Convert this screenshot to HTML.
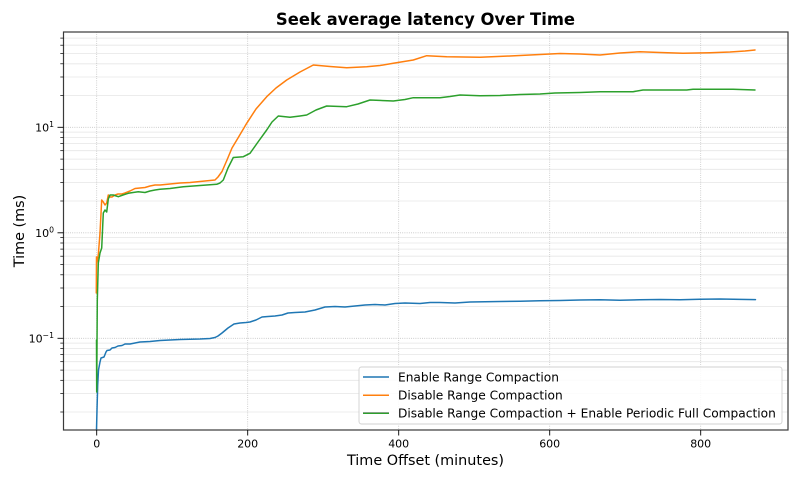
<!DOCTYPE html>
<html>
<head>
<meta charset="utf-8">
<style>
  html,body{margin:0;padding:0;background:#fff;}
  svg{display:block;}
  text{font-family:"DejaVu Sans","Liberation Sans",sans-serif;fill:#000;}
</style>
</head>
<body>
<svg width="800" height="480" viewBox="0 0 800 480" xmlns="http://www.w3.org/2000/svg">
  <rect x="0" y="0" width="800" height="480" fill="#fff"/>

  <!-- minor y grid -->
  <g stroke="#e6e6e6" stroke-width="0.8" fill="none">
    <line x1="63.5" x2="788" y1="412.0" y2="412.0"/>
    <line x1="63.5" x2="788" y1="393.5" y2="393.5"/>
    <line x1="63.5" x2="788" y1="380.3" y2="380.3"/>
    <line x1="63.5" x2="788" y1="370.1" y2="370.1"/>
    <line x1="63.5" x2="788" y1="361.7" y2="361.7"/>
    <line x1="63.5" x2="788" y1="354.6" y2="354.6"/>
    <line x1="63.5" x2="788" y1="348.5" y2="348.5"/>
    <line x1="63.5" x2="788" y1="343.1" y2="343.1"/>
    <line x1="63.5" x2="788" y1="306.5" y2="306.5"/>
    <line x1="63.5" x2="788" y1="288.0" y2="288.0"/>
    <line x1="63.5" x2="788" y1="274.8" y2="274.8"/>
    <line x1="63.5" x2="788" y1="264.6" y2="264.6"/>
    <line x1="63.5" x2="788" y1="256.2" y2="256.2"/>
    <line x1="63.5" x2="788" y1="249.1" y2="249.1"/>
    <line x1="63.5" x2="788" y1="243.0" y2="243.0"/>
    <line x1="63.5" x2="788" y1="237.6" y2="237.6"/>
    <line x1="63.5" x2="788" y1="201.0" y2="201.0"/>
    <line x1="63.5" x2="788" y1="182.5" y2="182.5"/>
    <line x1="63.5" x2="788" y1="169.3" y2="169.3"/>
    <line x1="63.5" x2="788" y1="159.1" y2="159.1"/>
    <line x1="63.5" x2="788" y1="150.7" y2="150.7"/>
    <line x1="63.5" x2="788" y1="143.6" y2="143.6"/>
    <line x1="63.5" x2="788" y1="137.5" y2="137.5"/>
    <line x1="63.5" x2="788" y1="132.1" y2="132.1"/>
    <line x1="63.5" x2="788" y1="95.5" y2="95.5"/>
    <line x1="63.5" x2="788" y1="77.0" y2="77.0"/>
    <line x1="63.5" x2="788" y1="63.8" y2="63.8"/>
    <line x1="63.5" x2="788" y1="53.6" y2="53.6"/>
    <line x1="63.5" x2="788" y1="45.2" y2="45.2"/>
    <line x1="63.5" x2="788" y1="38.1" y2="38.1"/>
  </g>
  <!-- major grid (dotted) -->
  <g stroke="#b8b8b8" stroke-width="0.8" stroke-dasharray="0.8,1.4" fill="none">
    <line x1="63.5" x2="788" y1="338.3" y2="338.3"/>
    <line x1="63.5" x2="788" y1="232.8" y2="232.8"/>
    <line x1="63.5" x2="788" y1="127.3" y2="127.3"/>
    <line x1="96.7" x2="96.7" y1="32" y2="430"/>
    <line x1="247.7" x2="247.7" y1="32" y2="430"/>
    <line x1="398.7" x2="398.7" y1="32" y2="430"/>
    <line x1="549.7" x2="549.7" y1="32" y2="430"/>
    <line x1="700.7" x2="700.7" y1="32" y2="430"/>
  </g>

  <!-- Data series -->
  <g fill="none" stroke-width="1.5" stroke-linejoin="round" stroke-linecap="round">
    <!-- Enable Range Compaction -->
    <polyline stroke="#1f77b4" points="96.5,430 97,410 97.7,385 98.5,370 100,362 101,358 104,357 106,352 107,350.5 110,350 112,348 115,347.5 118,346 122,345.5 125,344 130,344 135,343 140,342 150,341.5 160,340.5 170,340 180,339.5 200,339 210,338.5 215,337.5 218,336 222,333 228,328 234,324 240,323 246,322.5 250,322 256,320 262,317 268,316.5 275,316 282,315 288,313 295,312.5 305,312 315,310 325,307 335,306.5 345,307 355,306 365,305 375,304.5 385,305 395,303.5 405,303 420,303.5 430,302.5 440,302.5 455,303 470,302 485,301.8 500,301.5 520,301.2 540,300.8 560,300.5 580,300 600,299.8 620,300.2 640,299.8 660,299.5 680,299.8 700,299.3 720,299 740,299.4 755.5,299.6"/>
    <!-- Disable Range Compaction -->
    <polyline stroke="#ff7f0e" points="96.3,293 96.5,257 97,262 98.3,255 100,233 101.7,200 103.3,202 105,205 106.7,203 108.3,195 110,197 112,197 115,195 118,194 122,194 125,193 130,191 135,188.5 140,188 145,187.5 150,186 155,185 160,185 170,184 180,183 190,182.5 200,181.5 210,180.5 215,180 218,177 222,171.5 227,160 232,148 238,138 246.7,123.3 256,109 266.7,96.7 276,88 286.7,80 300,72 313.3,65 330,66.5 346.7,67.7 366.7,66.7 380,65.5 393.3,63.3 413.3,60 426.7,55.7 446.7,56.7 480,57.3 510,56 540,54.5 560,53.5 580,54 600,55 620,53 640,51.7 660,52.5 683,53.3 710,52.7 730,52 745,51 755,50"/>
    <!-- Disable + periodic full compaction -->
    <polyline stroke="#2ca02c" points="96.5,340 96.7,392 97,345 97.3,300 98.3,263 100,253 101.7,248 103.3,213 105,210 106.7,212 108.3,199 110,195 113.3,195 118.3,196.7 123,195 128.3,193.3 133,192.5 138.3,191.7 145,192.5 150,191 155,190 160,189.3 170,188.5 183.3,186.7 200,185.5 216.7,184.3 220,183 223.3,180 228,168 233.3,157.5 243.3,156.7 250,153.3 258,142 266.7,130 272,122 278.3,116 290,117.3 300,116 306.7,115 316,110 326.7,106 346.7,106.7 358,104 370,100 393.3,101 405,99.5 413.3,97.7 440,97.7 450,96.5 460,95 480,95.7 500,95.5 520,94.5 540,94 555,93 580,92.5 600,91.7 633,91.7 643,90 686.7,90 693,89.3 733,89.3 755,90"/>
  </g>

  <!-- Axes frame -->
  <rect x="63.5" y="32" width="724.5" height="398" fill="none" stroke="#3a3a3a" stroke-width="1.2"/>

  <!-- y ticks major -->
  <g stroke="#000" stroke-width="0.9">
    <line x1="57.5" x2="63.5" y1="338.3" y2="338.3"/>
    <line x1="57.5" x2="63.5" y1="232.8" y2="232.8"/>
    <line x1="57.5" x2="63.5" y1="127.3" y2="127.3"/>
  </g>
  <!-- y ticks minor -->
  <g stroke="#000" stroke-width="0.7">
    <line x1="60.3" x2="63.5" y1="412.0" y2="412.0"/>
    <line x1="60.3" x2="63.5" y1="393.5" y2="393.5"/>
    <line x1="60.3" x2="63.5" y1="380.3" y2="380.3"/>
    <line x1="60.3" x2="63.5" y1="370.1" y2="370.1"/>
    <line x1="60.3" x2="63.5" y1="361.7" y2="361.7"/>
    <line x1="60.3" x2="63.5" y1="354.6" y2="354.6"/>
    <line x1="60.3" x2="63.5" y1="348.5" y2="348.5"/>
    <line x1="60.3" x2="63.5" y1="343.1" y2="343.1"/>
    <line x1="60.3" x2="63.5" y1="306.5" y2="306.5"/>
    <line x1="60.3" x2="63.5" y1="288.0" y2="288.0"/>
    <line x1="60.3" x2="63.5" y1="274.8" y2="274.8"/>
    <line x1="60.3" x2="63.5" y1="264.6" y2="264.6"/>
    <line x1="60.3" x2="63.5" y1="256.2" y2="256.2"/>
    <line x1="60.3" x2="63.5" y1="249.1" y2="249.1"/>
    <line x1="60.3" x2="63.5" y1="243.0" y2="243.0"/>
    <line x1="60.3" x2="63.5" y1="237.6" y2="237.6"/>
    <line x1="60.3" x2="63.5" y1="201.0" y2="201.0"/>
    <line x1="60.3" x2="63.5" y1="182.5" y2="182.5"/>
    <line x1="60.3" x2="63.5" y1="169.3" y2="169.3"/>
    <line x1="60.3" x2="63.5" y1="159.1" y2="159.1"/>
    <line x1="60.3" x2="63.5" y1="150.7" y2="150.7"/>
    <line x1="60.3" x2="63.5" y1="143.6" y2="143.6"/>
    <line x1="60.3" x2="63.5" y1="137.5" y2="137.5"/>
    <line x1="60.3" x2="63.5" y1="132.1" y2="132.1"/>
    <line x1="60.3" x2="63.5" y1="95.5" y2="95.5"/>
    <line x1="60.3" x2="63.5" y1="77.0" y2="77.0"/>
    <line x1="60.3" x2="63.5" y1="63.8" y2="63.8"/>
    <line x1="60.3" x2="63.5" y1="53.6" y2="53.6"/>
    <line x1="60.3" x2="63.5" y1="45.2" y2="45.2"/>
    <line x1="60.3" x2="63.5" y1="38.1" y2="38.1"/>
  </g>
  <!-- x ticks -->
  <g stroke="#000" stroke-width="0.9">
    <line x1="96.7" x2="96.7" y1="430" y2="435.5"/>
    <line x1="247.7" x2="247.7" y1="430" y2="435.5"/>
    <line x1="398.7" x2="398.7" y1="430" y2="435.5"/>
    <line x1="549.7" x2="549.7" y1="430" y2="435.5"/>
    <line x1="700.7" x2="700.7" y1="430" y2="435.5"/>
  </g>

  <!-- x tick labels -->
  <g font-size="11" text-anchor="middle">
    <text x="96.7" y="447.5">0</text>
    <text x="247.7" y="447.5">200</text>
    <text x="398.7" y="447.5">400</text>
    <text x="549.7" y="447.5">600</text>
    <text x="700.7" y="447.5">800</text>
  </g>
  <!-- y tick labels -->
  <g font-size="11" text-anchor="end">
    <text x="54" y="342.3">10<tspan font-size="7.7" dy="-4.5">−1</tspan></text>
    <text x="54" y="236.8">10<tspan font-size="7.7" dy="-4.5">0</tspan></text>
    <text x="54" y="131.3">10<tspan font-size="7.7" dy="-4.5">1</tspan></text>
  </g>

  <!-- axis labels -->
  <text x="425.5" y="465" font-size="14.4" text-anchor="middle">Time Offset (minutes)</text>
  <text transform="translate(24,231) rotate(-90)" font-size="14.4" text-anchor="middle">Time (ms)</text>

  <!-- title -->
  <text x="425.5" y="25" font-size="16.4" font-weight="bold" text-anchor="middle">Seek average latency Over Time</text>

  <!-- legend -->
  <rect x="359" y="367" width="423" height="57" rx="2.5" ry="2.5" fill="#fff" fill-opacity="0.85" stroke="#d0d0d0" stroke-width="0.9"/>
  <g stroke-width="1.5" fill="none">
    <line x1="363" x2="389" y1="377" y2="377" stroke="#1f77b4"/>
    <line x1="363" x2="389" y1="395.3" y2="395.3" stroke="#ff7f0e"/>
    <line x1="363" x2="389" y1="413.3" y2="413.3" stroke="#2ca02c"/>
    <line x1="363" x2="389" y1="412.5" y2="412.5" stroke="#777" stroke-width="0.8" stroke-opacity="0.6"/>
  </g>
  <g font-size="12.2">
    <text x="398" y="381.4">Enable Range Compaction</text>
    <text x="398" y="399.7">Disable Range Compaction</text>
    <text x="398" y="417.6">Disable Range Compaction + Enable Periodic Full Compaction</text>
  </g>
</svg>
</body>
</html>
